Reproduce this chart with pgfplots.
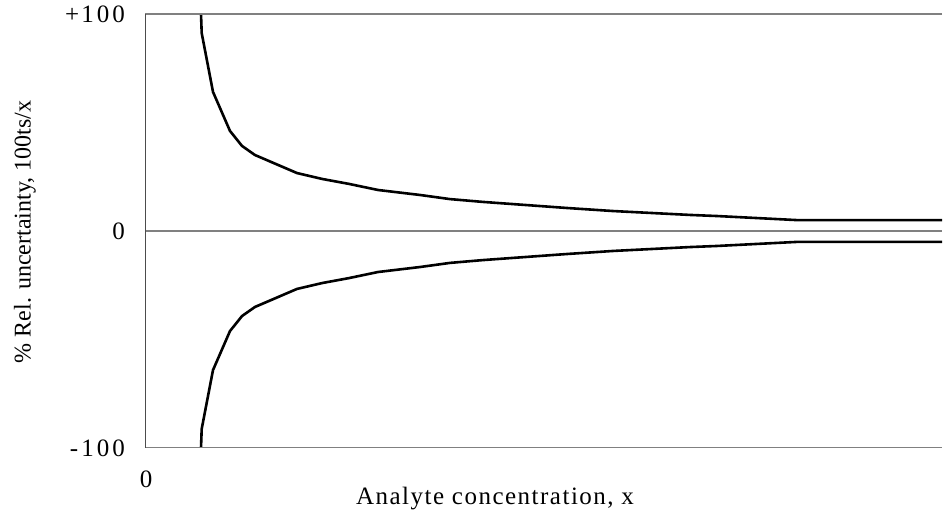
\documentclass[border=0pt]{standalone}
\usepackage{fontspec}
\setmainfont{Liberation Serif}
\newfontfamily\spaced{Liberation Serif}[LetterSpace=12]
\newfontfamily\spacedx{Liberation Serif}[LetterSpace=6]
\usepackage{pgfplots}
\pgfplotsset{compat=1.18}
\begin{document}
\begin{tikzpicture}
\useasboundingbox (0,0) rectangle (946bp,516bp);
\begin{axis}[
  at={(145bp,68bp)}, anchor=south west,
  scale only axis, width=797bp, height=434bp,
  xmin=0, xmax=797, ymin=-100, ymax=100,
  axis line style={draw=none},
  major tick length=0pt,
  ytick={-100,0,100}, yticklabels={-100,0,\raisebox{-4bp}{+\kern2bp 100}},
  xtick={0}, xticklabels={0},
  yticklabel style={anchor=east, inner sep=0pt, xshift=-20bp, font=\spaced\fontsize{25bp}{29bp}\selectfont},
  xticklabel style={anchor=north, inner sep=0pt, yshift=-23bp, xshift=1bp, font=\spaced\fontsize{25bp}{29bp}\selectfont},
]
\addplot[black!50, line width=1.3bp] coordinates {(0,0) (797,0)};
\addplot[black, line width=2.6bp] coordinates {
(56,100) (56.7,91.2) (68,64.1) (85,46.1) (97,39.2) (110,35.0) (152,26.7) (177,24.0) (204,21.7) (233,18.9) (275,16.6) (305,14.7) (338,13.4) (422,10.6) (468,9.2) (545,7.4) (572,6.9) (653,5.0) (797,5.0)};
\addplot[black, line width=2.6bp] coordinates {
(56,-100) (56.7,-91.2) (68,-64.1) (85,-46.1) (97,-39.2) (110,-35.0) (152,-26.7) (177,-24.0) (204,-21.7) (233,-18.9) (275,-16.6) (305,-14.7) (338,-13.4) (422,-10.6) (468,-9.2) (545,-7.4) (572,-6.9) (653,-5.0) (797,-5.0)};
\draw[black!50, line width=1.3bp] (rel axis cs:1,1) -- (rel axis cs:0,1);
\draw[black!50, line width=1.3bp] (rel axis cs:0,0) -- (rel axis cs:1,0);
\draw[black!70, line width=1.3bp] (rel axis cs:0,0) -- (rel axis cs:0,1);
\end{axis}
\node[rotate=90, inner sep=0pt, font=\fontsize{24bp}{28bp}\selectfont] at (25bp,284bp) {\% Rel. uncertainty, 100ts/x};
\node[inner sep=0pt, font=\spacedx\fontsize{25bp}{29bp}\selectfont] at (495bp,17bp) {Analyte concentration, x};
\end{tikzpicture}
\end{document}
